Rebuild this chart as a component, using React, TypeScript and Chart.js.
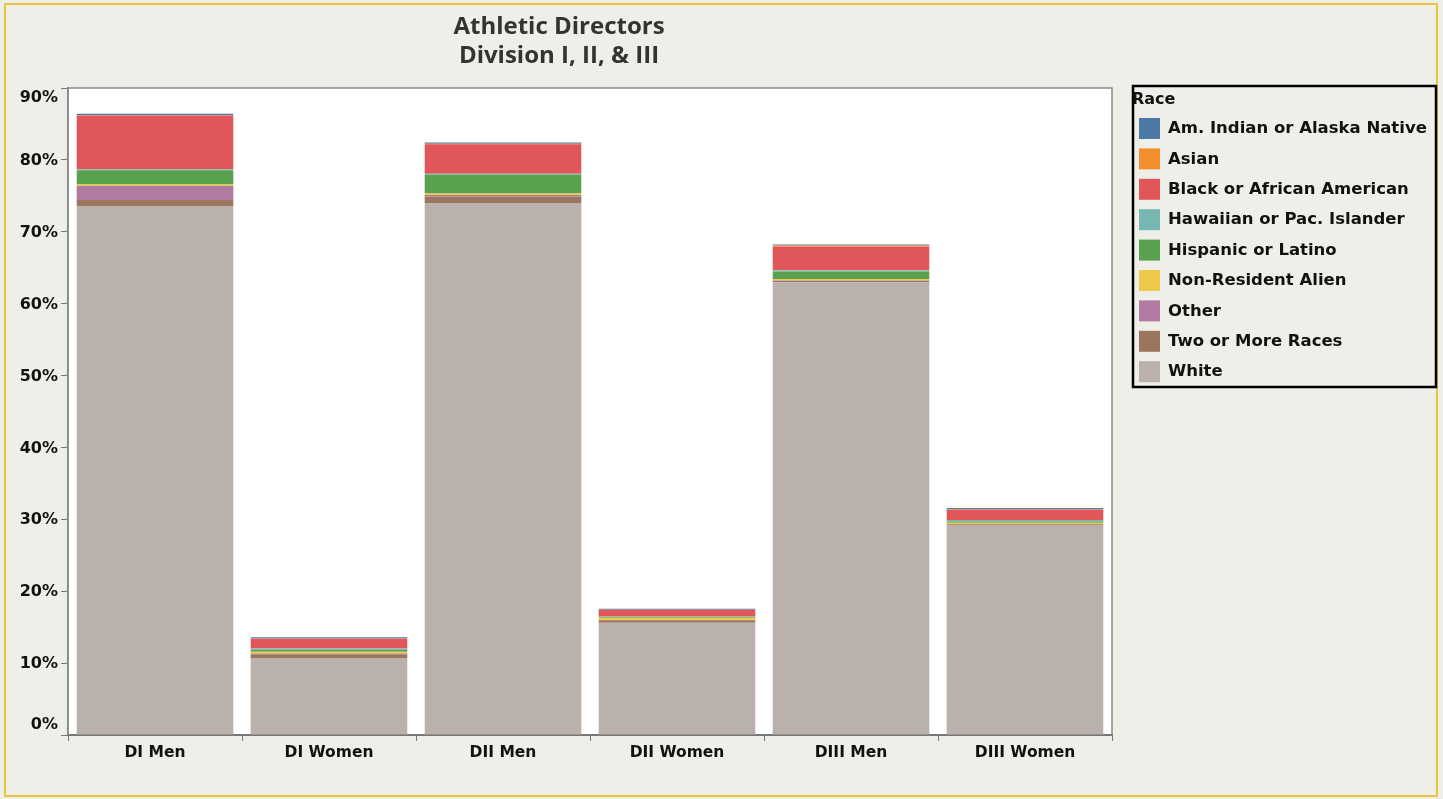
import React, { useEffect, useRef } from "react";
import { Chart, registerables } from "chart.js";

Chart.register(...registerables);

const categories = ["DI Men", "DI Women", "DII Men", "DII Women", "DIII Men", "DIII Women"];
const raceLabels = [
  "Am. Indian or Alaska Native",
  "Asian",
  "Black or African American",
  "Hawaiian or Pac. Islander",
  "Hispanic or Latino",
  "Non-Resident Alien",
  "Other",
  "Two or More Races",
  "White",
];
const raceColors = ["#4E79A7", "#F28E2B", "#E15759", "#76B7B2", "#59A14F", "#EDC948", "#B07AA1", "#9C755F", "#BAB0AC"];

const amIndian = [0.2, 0.14, 0.18, 0.12, 0.14, 0.18];
const asian = [0.05, 0.05, 0.05, 0.05, 0.14, 0.05];
const black = [7.46, 1.35, 4.1, 0.9, 3.3, 1.46];
const hawaiian = [0.15, 0.17, 0.14, 0.08, 0.15, 0.18];
const hispanic = [2.0, 0.28, 2.6, 0.1, 1.07, 0.2];
const nonResident = [0.2, 0.24, 0.24, 0.3, 0.2, 0.18];
const other = [1.95, 0.1, 0.2, 0.05, 0.05, 0.03];
const twoOrMore = [0.84, 0.55, 0.9, 0.35, 0.2, 0.1];
const white = [73.57, 10.7, 74.0, 15.6, 62.97, 29.2];

const raceValues = [amIndian, asian, black, hawaiian, hispanic, nonResident, other, twoOrMore, white];

const titleLines = ["Athletic Directors", "Division I, II, & III"];
const legendTitle = "Race";
const yTicks = [0, 10, 20, 30, 40, 50, 60, 70, 80, 90];

const W = 1443;
const H = 799;
const BG = "#EFEFE9";
const FONT = "'DejaVu Sans', sans-serif";

const decorPlugin = {
  id: "decor",
  beforeDraw(chart: any) {
    const ctx = chart.ctx;
    const a = chart.chartArea;
    ctx.save();
    ctx.fillStyle = BG;
    ctx.fillRect(0, 0, W, H);
    ctx.strokeStyle = "#E9C43C";
    ctx.lineWidth = 2;
    ctx.strokeRect(5, 4, 1432, 792);
    ctx.fillStyle = "#FFFFFF";
    ctx.fillRect(a.left, a.top, a.right - a.left, a.bottom - a.top);
    ctx.restore();
  },
  afterDraw(chart: any) {
    const ctx = chart.ctx;
    const a = chart.chartArea;
    ctx.save();
    // frame
    ctx.strokeStyle = "#8A8A8A";
    ctx.lineWidth = 1.5;
    ctx.beginPath();
    ctx.moveTo(a.left, a.bottom);
    ctx.lineTo(a.left, a.top);
    ctx.lineTo(a.right, a.top);
    ctx.lineTo(a.right, a.bottom);
    ctx.stroke();
    // y tick labels (clamped inside the axis like the reference)
    const ys = chart.scales.y;
    ctx.fillStyle = "#111111";
    ctx.font = "bold 16px " + FONT;
    ctx.textAlign = "right";
    ctx.textBaseline = "middle";
    yTicks.forEach((v) => {
      let py = ys.getPixelForValue(v);
      py = Math.max(a.top + 9, Math.min(a.bottom - 11, py));
      ctx.fillText(v + "%", 58, py + 1);
    });
    // title
    ctx.fillStyle = "#333333";
    ctx.font = "bold 24px 'Open Sans', sans-serif";
    ctx.textAlign = "center";
    ctx.textBaseline = "middle";
    ctx.fillText(titleLines[0], 559, 27);
    ctx.fillText(titleLines[1], 559, 56);
    // legend
    ctx.strokeStyle = "#000000";
    ctx.lineWidth = 2.5;
    ctx.strokeRect(1133, 86, 303, 301);
    ctx.fillStyle = "#111111";
    ctx.textAlign = "left";
    ctx.font = "bold 16px " + FONT;
    ctx.fillText(legendTitle, 1132, 100);
    ctx.font = "bold 16.5px " + FONT;
    raceLabels.forEach((lab, i) => {
      const cy = 128 + i * 30.4;
      ctx.fillStyle = raceColors[i];
      ctx.fillRect(1139, cy - 10, 21, 21);
      ctx.fillStyle = "#111111";
      ctx.fillText(lab, 1168, cy + 1);
    });
    ctx.restore();
  },
};

export default function App() {
  const ref = useRef<HTMLCanvasElement | null>(null);
  useEffect(() => {
    if (!ref.current) return;
    const stackOrder = [8, 7, 6, 5, 4, 3, 2, 1, 0];
    const datasets = stackOrder.map((i) => ({
      label: raceLabels[i],
      data: raceValues[i],
      backgroundColor: raceColors[i],
      borderWidth: 0,
      barPercentage: 0.9,
      categoryPercentage: 1.0,
    }));
    const chart = new Chart(ref.current, {
      type: "bar",
      data: { labels: categories, datasets },
      options: {
        animation: false,
        responsive: false,
        devicePixelRatio: 1,
        layout: { padding: { left: 0, right: W - 1112, top: 88, bottom: 0 } },
        plugins: { legend: { display: false }, tooltip: { enabled: false }, title: { display: false } },
        scales: {
          x: {
            stacked: true,
            grid: { display: true, drawOnChartArea: false, drawTicks: true, tickLength: 6, color: "#777", offset: true },
            border: { display: true, color: "#777", width: 2 },
            ticks: { color: "#111", font: { family: FONT, weight: "bold", size: 15.5 }, padding: 3 },
            afterFit: (s: any) => {
              s.height = H - 735;
            },
          },
          y: {
            stacked: true,
            min: 0,
            max: 90,
            afterBuildTicks: (s: any) => {
              s.ticks = yTicks.map((v) => ({ value: v }));
            },
            grid: { display: true, drawOnChartArea: false, drawTicks: true, tickLength: 7, color: "#777" },
            border: { display: true, color: "#777", width: 1.5 },
            ticks: { display: false },
            afterFit: (s: any) => {
              s.width = 68;
            },
          },
        },
      },
      plugins: [decorPlugin],
    });
    return () => chart.destroy();
  }, []);
  return (
    <div style={{ position: "fixed", left: 0, top: 0, width: W, height: H, background: BG }}>
      <canvas ref={ref} width={W} height={H} style={{ width: W, height: H, display: "block" }} />
    </div>
  );
}
